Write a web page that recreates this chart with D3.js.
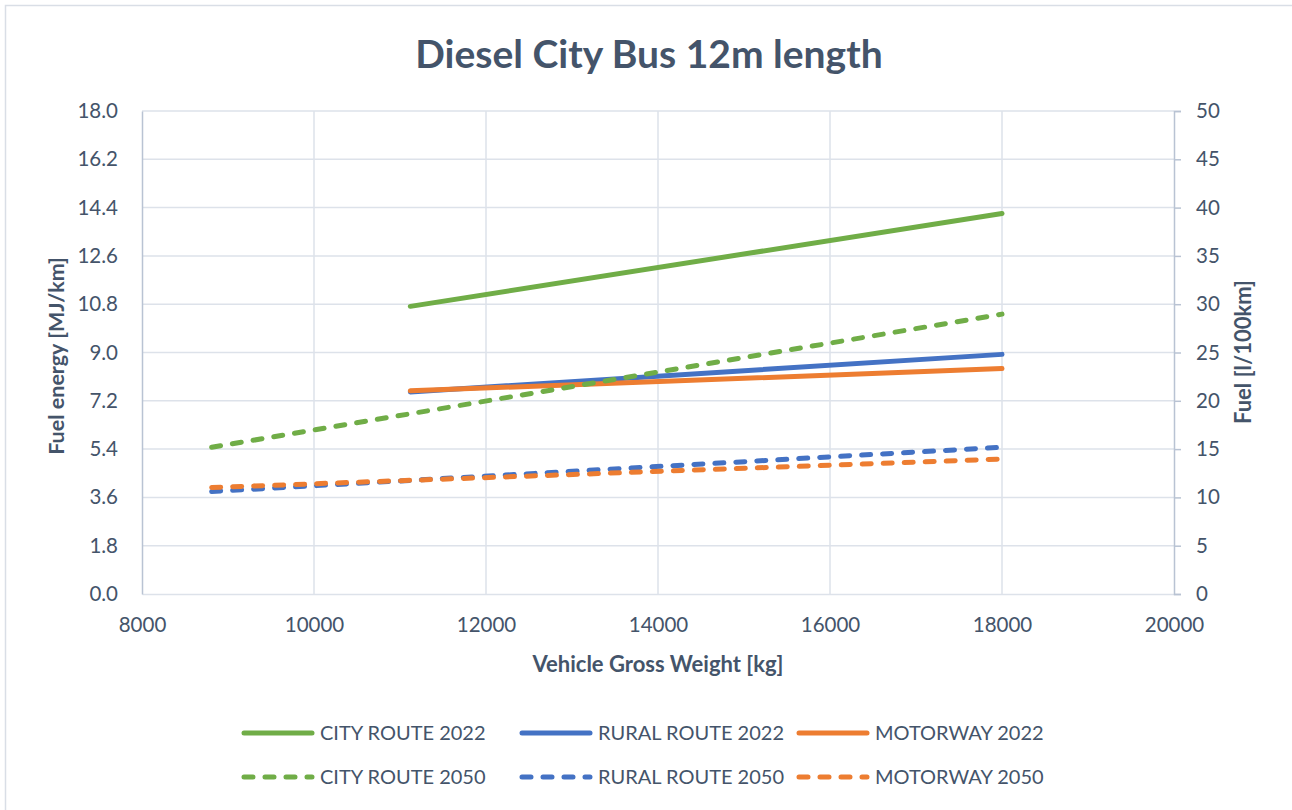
<!DOCTYPE html>
<html>
<head>
<meta charset="utf-8">
<script src="https://cdn.jsdelivr.net/npm/d3@7"></script>
<style>
  html, body { margin: 0; padding: 0; background: #fff; }
  svg { display: block; }
  text { font-family: Lato, "Open Sans", sans-serif; fill: #44546A; }
</style>
</head>
<body>
<svg id="chart" width="1292" height="810"></svg>
<script>
// ---- data ----
const seriesNames = ["CITY ROUTE 2022", "RURAL ROUTE 2022", "MOTORWAY 2022",
                     "CITY ROUTE 2050", "RURAL ROUTE 2050", "MOTORWAY 2050"];
const weights2022 = [11120, 18000];
const weights2050 = [8810, 18000];
const cityRoute2022 = [10.72, 14.18];
const ruralRoute2022 = [7.53, 8.93];
const motorway2022 = [7.57, 8.40];
const cityRoute2050 = [5.47, 10.43];
const ruralRoute2050 = [3.82, 5.47];
const motorway2050 = [3.97, 5.03];
const xTicks = [8000, 10000, 12000, 14000, 16000, 18000, 20000];
const yLeftTicks = [0, 1.8, 3.6, 5.4, 7.2, 9.0, 10.8, 12.6, 14.4, 16.2, 18.0];
const yRightTicks = [0, 5, 10, 15, 20, 25, 30, 35, 40, 45, 50];
const colors = ["#70AD47", "#4472C4", "#ED7D31", "#70AD47", "#4472C4", "#ED7D31"];

const series = [
  { name: seriesNames[0], x: weights2022, y: cityRoute2022, color: colors[0], dashed: false },
  { name: seriesNames[1], x: weights2022, y: ruralRoute2022, color: colors[1], dashed: false },
  { name: seriesNames[2], x: weights2022, y: motorway2022, color: colors[2], dashed: false },
  { name: seriesNames[3], x: weights2050, y: cityRoute2050, color: colors[3], dashed: true },
  { name: seriesNames[4], x: weights2050, y: ruralRoute2050, color: colors[4], dashed: true },
  { name: seriesNames[5], x: weights2050, y: motorway2050, color: colors[5], dashed: true }
];

// ---- layout ----
const svg = d3.select("#chart");
const L = 142, R = 1174, T = 111, B = 594;
const gridColor = "#DDE2EA";
const axisColor = "#B9C3D3";

svg.append("rect").attr("x", 5.5).attr("y", 5.5).attr("width", 1290).attr("height", 810)
  .attr("fill", "#fff").attr("stroke", "#D9DEE6").attr("stroke-width", 1.5);

const x = d3.scaleLinear().domain([8000, 20000]).range([L, R]);
const yL = d3.scaleLinear().domain([0, 18]).range([B, T]);
const yR = d3.scaleLinear().domain([0, 50]).range([B, T]);

// gridlines
const grid = svg.append("g");
grid.selectAll("line.h").data(yLeftTicks.slice(1)).enter().append("line")
  .attr("x1", L).attr("x2", R).attr("y1", d => yL(d)).attr("y2", d => yL(d))
  .attr("stroke", gridColor).attr("stroke-width", 1.5);
grid.selectAll("line.v").data(xTicks.slice(1, -1)).enter().append("line")
  .attr("x1", d => x(d)).attr("x2", d => x(d)).attr("y1", T).attr("y2", B)
  .attr("stroke", gridColor).attr("stroke-width", 1.5);

// axes
const fs = 20.5;
const xAxis = svg.append("g").attr("transform", `translate(0,${B})`)
  .call(d3.axisBottom(x).tickValues(xTicks).tickFormat(d3.format("d")).tickSize(0).tickPadding(23));
xAxis.select(".domain").attr("stroke", gridColor).attr("stroke-width", 1.5);
xAxis.selectAll("text").attr("font-size", fs).style("fill", "#44546A");

const yAxisL = svg.append("g").attr("transform", `translate(${L},0)`)
  .call(d3.axisLeft(yL).tickValues(yLeftTicks).tickFormat(d3.format(".1f")).tickSize(0).tickPadding(24));
yAxisL.select(".domain").attr("stroke", axisColor).attr("stroke-width", 1.5);
yAxisL.selectAll("text").attr("font-size", fs).style("fill", "#44546A");

const yAxisR = svg.append("g").attr("transform", `translate(${R},0)`)
  .call(d3.axisRight(yR).tickValues(yRightTicks).tickFormat(d3.format("d")).tickSize(7).tickSizeOuter(7).tickPadding(15));
yAxisR.select(".domain").attr("stroke", axisColor).attr("stroke-width", 1.5);
yAxisR.selectAll(".tick line").attr("stroke", axisColor).attr("stroke-width", 1.5);
yAxisR.selectAll("text").attr("font-size", fs).style("fill", "#44546A");

// series lines
const line = d3.line().x(d => x(d[0])).y(d => yL(d[1]));
series.forEach(s => {
  const pts = s.x.map((xv, i) => [xv, s.y[i]]);
  svg.append("path").datum(pts)
    .attr("d", line)
    .attr("fill", "none")
    .attr("stroke", s.color)
    .attr("stroke-width", 5)
    .attr("stroke-linecap", "round")
    .attr("stroke-dasharray", s.dashed ? "9,12" : null);
});

// titles
svg.append("text").attr("x", 649).attr("y", 68).attr("text-anchor", "middle")
  .attr("font-size", 39).attr("font-weight", "bold").text("Diesel City Bus 12m length");
svg.append("text").attr("x", 658).attr("y", 672).attr("text-anchor", "middle")
  .attr("font-size", 22).attr("font-weight", "bold").text("Vehicle Gross Weight [kg]");
svg.append("text").attr("transform", "translate(64,356) rotate(-90)").attr("text-anchor", "middle")
  .attr("font-size", 21.5).attr("font-weight", "bold").text("Fuel energy [MJ/km]");
svg.append("text").attr("transform", "translate(1251,352) rotate(-90)").attr("text-anchor", "middle")
  .attr("font-size", 22).attr("font-weight", "bold").text("Fuel [l/100km]");

// legend
const legX = [242, 520, 797];
const legY = [733, 777];
series.forEach((s, i) => {
  const col = i % 3, row = Math.floor(i / 3);
  const g = svg.append("g").attr("transform", `translate(${legX[col]},${legY[row]})`);
  g.append("line").attr("x1", 2).attr("x2", 70).attr("y1", 0).attr("y2", 0)
    .attr("stroke", s.color).attr("stroke-width", 5).attr("stroke-linecap", "round")
    .attr("stroke-dasharray", s.dashed ? "9,12" : null);
  g.append("text").attr("x", 78).attr("y", 0).attr("dy", "0.36em")
    .attr("font-size", 20).text(s.name);
});
</script>
</body>
</html>
